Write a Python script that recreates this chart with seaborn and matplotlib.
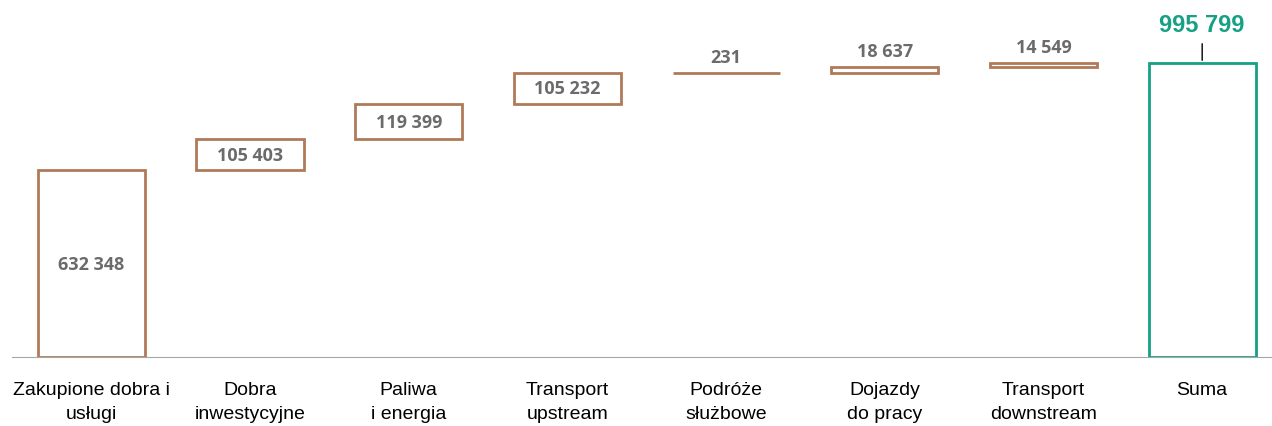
import matplotlib
matplotlib.use("Agg")
import matplotlib.pyplot as plt
import seaborn as sns
import numpy as np
import pandas as pd

categories = ["Zakupione dobra i\nusługi", "Dobra\ninwestycyjne", "Paliwa\ni energia",
              "Transport\nupstream", "Podróże\nsłużbowe", "Dojazdy\ndo pracy",
              "Transport\ndownstream", "Suma"]
values = [632348, 105403, 119399, 105232, 231, 18637, 14549]
labels = ["632 348", "105 403", "119 399", "105 232", "231", "18 637", "14 549"]
total_label = "995 799"

BROWN = "#b07a58"
GREEN = "#16a085"
GRAY = "#6b6b6b"

total = sum(values)
bottoms = list(np.cumsum([0] + values[:-1])) + [0]
heights = values + [total]
df = pd.DataFrame({"cat": categories, "h": heights})

sns.set_style("white")
fig = plt.figure(figsize=(12.72, 4.27), dpi=100)
ax = fig.add_axes([12 / 1272, 69 / 427, 1260 / 1272, 358 / 427])

edges = [BROWN] * 7 + [GREEN]
sns.barplot(data=df, x="cat", y="h", bottom=bottoms, color="white", saturation=1,
            edgecolor=edges, linewidth=2, width=0.675, errorbar=None, ax=ax)

ax.set_xlim(-0.5, 7.44)
ax.set_ylim(0, 1213000)

# value labels: inside tall bars, above the thin ones
for i, (v, b, t) in enumerate(zip(values, bottoms, labels)):
    if v > 50000:
        ax.text(i, b + v / 2, t, ha="center", va="center", fontsize=13,
                fontweight="bold", color=GRAY, family="Open Sans")
    else:
        ax.annotate(t, (i, b + v), xytext=(0, 5), textcoords="offset points",
                    ha="center", va="bottom", fontsize=13, fontweight="bold",
                    color=GRAY, family="Open Sans")

# total label with leader line
ax.annotate("", (7, total), xytext=(7, total + 75000),
            arrowprops=dict(arrowstyle="-", color="black", lw=1))
ax.text(7, total + 130000, total_label, ha="center", va="center", fontsize=17,
        fontweight="bold", color=GREEN, family="Liberation Sans")

sns.despine(ax=ax, left=True, top=True, right=True)
ax.spines["bottom"].set_color("#a6a6a6")
ax.set_yticks([])
ax.set_xlabel("")
ax.set_ylabel("")
ax.set_xticks(np.arange(8))
ax.set_xticklabels(categories, family="Liberation Sans", fontsize=14, color="black",
                   linespacing=1.6)
ax.tick_params(axis="x", which="major", length=0, pad=17)
ax.set_xticks(np.arange(-0.5, 7.5, 1), minor=True)
ax.tick_params(axis="x", which="minor", length=8, color="#a6a6a6", width=1)

fig.savefig("out.png", dpi=100)
